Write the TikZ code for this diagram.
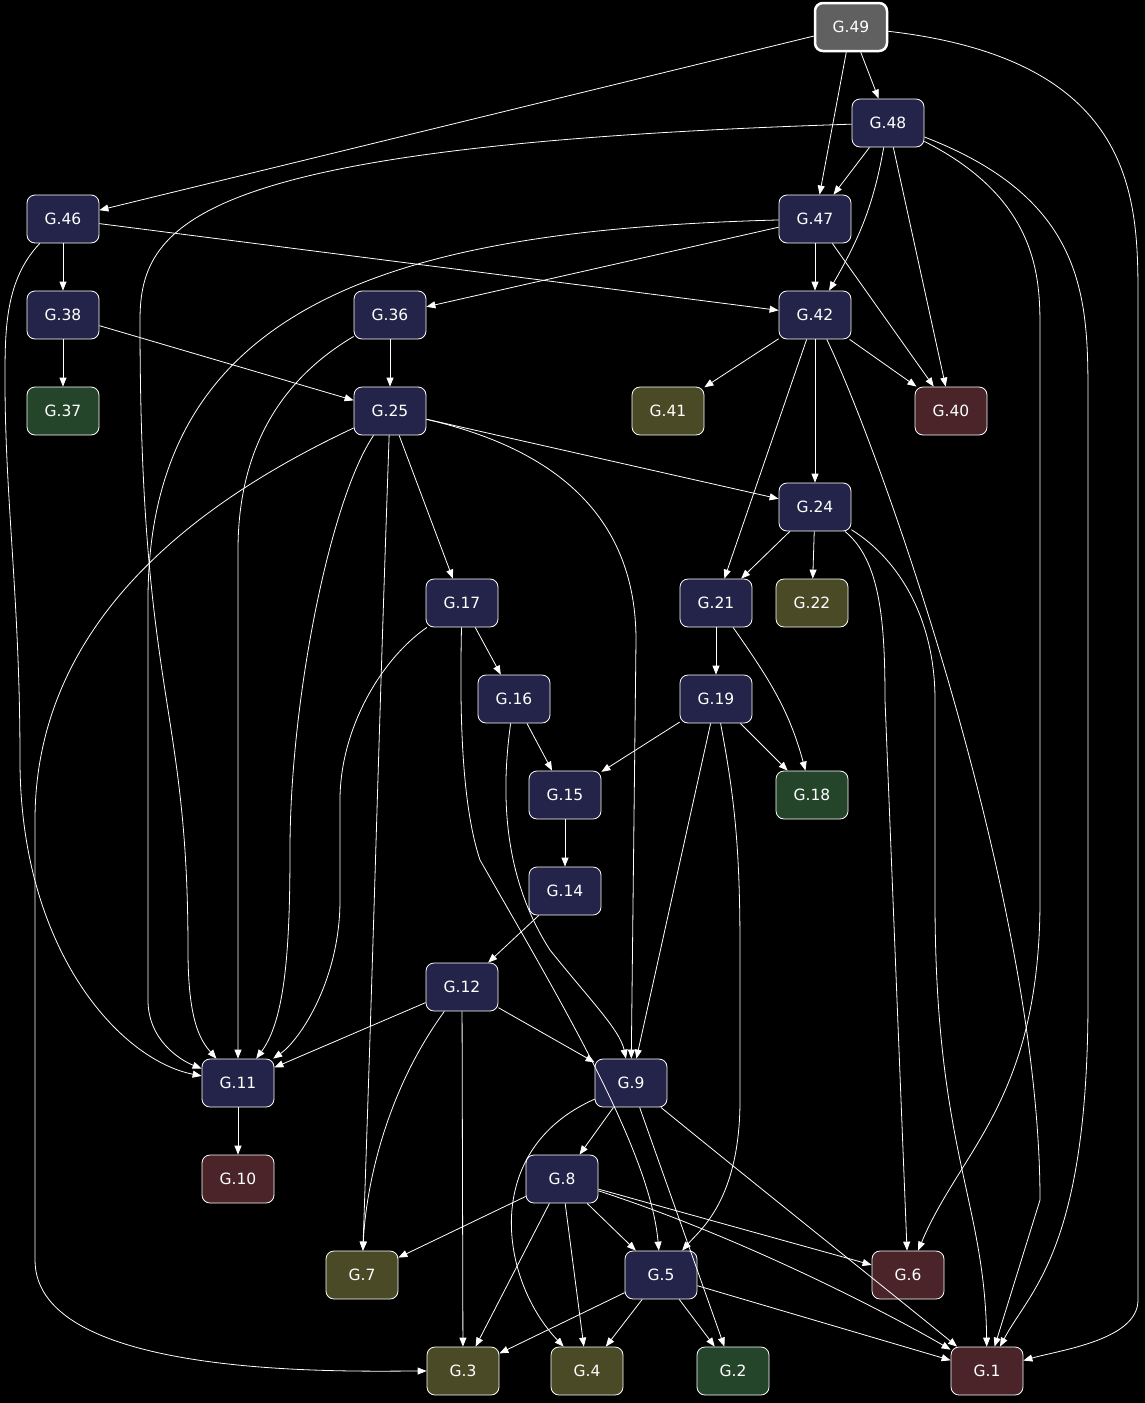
\documentclass[tikz,border=0pt]{standalone}
\usepackage{fontspec}
\setmainfont{DejaVu Sans}
\usetikzlibrary{arrows.meta}
\definecolor{navy}{HTML}{24244A}
\definecolor{olive}{HTML}{4A4A26}
\definecolor{leaf}{HTML}{25452A}
\definecolor{wine}{HTML}{4A2428}
\definecolor{slate}{HTML}{606060}
\tikzset{>={Triangle[length=9pt,width=7pt]}}
\tikzset{
  box/.style = {draw=white, line width=0.8pt, rounded corners=8pt, minimum width=72pt,
                minimum height=48pt, text=white, font=\fontsize{15.5}{18}\selectfont, fill=navy},
  edge/.style = {->, draw=white, line width=0.8pt}
}
\begin{document}
\begin{tikzpicture}[x=1pt, y=-1pt]
	\fill[black] (0,0) rectangle (1145,1403);
	\useasboundingbox (0,0) rectangle (1145,1403);
	\node[box, fill=slate, line width=2.5pt] (n49) at (851,27) {G.49};
	\node[box] (n48) at (888,123) {G.48};
	\node[box] (n46) at (63,219) {G.46};
	\node[box] (n47) at (815,219) {G.47};
	\node[box] (n38) at (63,315) {G.38};
	\node[box] (n36) at (390,315) {G.36};
	\node[box] (n42) at (815,315) {G.42};
	\node[box, fill=leaf] (n37) at (63,411) {G.37};
	\node[box] (n25) at (390,411) {G.25};
	\node[box, fill=olive] (n41) at (668,411) {G.41};
	\node[box, fill=wine] (n40) at (951,411) {G.40};
	\node[box] (n24) at (815,507) {G.24};
	\node[box] (n17) at (462,603) {G.17};
	\node[box] (n21) at (716,603) {G.21};
	\node[box, fill=olive] (n22) at (812,603) {G.22};
	\node[box] (n16) at (514,699) {G.16};
	\node[box] (n19) at (716,699) {G.19};
	\node[box] (n15) at (565,795) {G.15};
	\node[box, fill=leaf] (n18) at (812,795) {G.18};
	\node[box] (n14) at (565,891) {G.14};
	\node[box] (n12) at (462,987) {G.12};
	\node[box] (n11) at (238,1083) {G.11};
	\node[box] (n9) at (631,1083) {G.9};
	\node[box, fill=wine] (n10) at (238,1179) {G.10};
	\node[box] (n8) at (562,1179) {G.8};
	\node[box, fill=olive] (n7) at (362,1275) {G.7};
	\node[box] (n5) at (661,1275) {G.5};
	\node[box, fill=wine] (n6) at (908,1275) {G.6};
	\node[box, fill=olive] (n3) at (463,1371) {G.3};
	\node[box, fill=olive] (n4) at (587,1371) {G.4};
	\node[box, fill=leaf] (n2) at (733,1371) {G.2};
	\node[box, fill=wine] (n1) at (987,1371) {G.1};
	% straight edges
	\foreach \a/\b in {49/46, 49/47, 49/48, 48/47, 48/40, 46/38, 46/42, 47/42, 47/36, 47/40,
	                   38/37, 38/25, 36/25, 42/41, 42/40, 42/24, 42/21, 25/24, 25/17, 24/21,
	                   24/22, 17/16, 21/19, 19/15, 19/18, 19/9, 16/15, 15/14, 14/12, 12/11,
	                   12/9, 12/3, 11/10, 9/8, 9/2, 8/7, 8/5, 8/4, 8/3, 8/6, 5/3, 5/4, 5/2, 5/1}
	\draw[edge] (n\a) -- (n\b);
	% curved edges
	\draw[edge] (n48) to[out=-100, in=60] (n42);
	\draw[edge] (n21) to[out=-55, in=105] (n18);
	\draw[edge] (n25) to[out=-92, in=88] (n7);
	\draw[edge] (n49) .. controls (1138,60) and (1138,200) .. (1138,300) -- (1138,1300) .. controls (1138,1340) and (1060,1350) .. (n1);
	\draw[edge] (n48) .. controls (200,145) and (140,220) .. (140,320) .. controls (140,700) and (188,700) .. (188,950) .. controls (188,1020) and (200,1040) .. (n11);
	\draw[edge] (n48) .. controls (1040,200) and (1040,280) .. (1040,330) -- (1040,900) .. controls (1040,1100) and (960,1150) .. (n6);
	\draw[edge] (n48) .. controls (1088,200) and (1088,300) .. (1088,400) -- (1088,1000) .. controls (1088,1250) and (1030,1290) .. (n1);
	\draw[edge] (n46) .. controls (5,280) and (5,330) .. (5,380) .. controls (5,500) and (20,600) .. (20,760) .. controls (20,950) and (120,1060) .. (n11);
	\draw[edge] (n47) .. controls (400,230) and (148,300) .. (148,600) -- (148,1000) .. controls (148,1040) and (180,1060) .. (n11);
	\draw[edge] (n36) .. controls (280,380) and (238,450) .. (238,550) -- (n11);
	\draw[edge] (n42) .. controls (880,450) and (1040,900) .. (1040,1200) -- (n1);
	\draw[edge] (n25) .. controls (560,450) and (636,520) .. (636,640) -- (n9);
	\draw[edge] (n25) .. controls (330,500) and (290,700) .. (290,850) .. controls (290,950) and (285,1020) .. (n11);
	\draw[edge] (n25) .. controls (200,500) and (35,620) .. (35,820) -- (35,1260) .. controls (35,1380) and (350,1371) .. (n3);
	\draw[edge] (n24) .. controls (880,560) and (885,620) .. (885,700) -- (n6);
	\draw[edge] (n24) .. controls (900,560) and (935,620) .. (935,700) -- (935,900) .. controls (935,1150) and (985,1200) .. (n1);
	\draw[edge] (n17) .. controls (380,660) and (340,730) .. (340,800) -- (340,900) .. controls (340,980) and (300,1040) .. (n11);
	\draw[edge] (n17) .. controls (460,700) and (460,800) .. (480,860) .. controls (560,1000) and (650,1150) .. (n5);
	\draw[edge] (n16) .. controls (500,800) and (505,880) .. (550,950) .. controls (590,1000) and (620,1030) .. (n9);
	\draw[edge] (n19) .. controls (735,800) and (740,850) .. (740,950) -- (740,1100) .. controls (740,1200) and (700,1230) .. (n5);
	\draw[edge] (n12) .. controls (380,1100) and (365,1200) .. (n7);
	\draw[edge] (n9) .. controls (480,1150) and (500,1280) .. (n4);
	\draw[edge] (n9) .. controls (750,1180) and (900,1300) .. (n1);
	\draw[edge] (n8) .. controls (750,1240) and (900,1320) .. (n1);
\end{tikzpicture}
\end{document}
